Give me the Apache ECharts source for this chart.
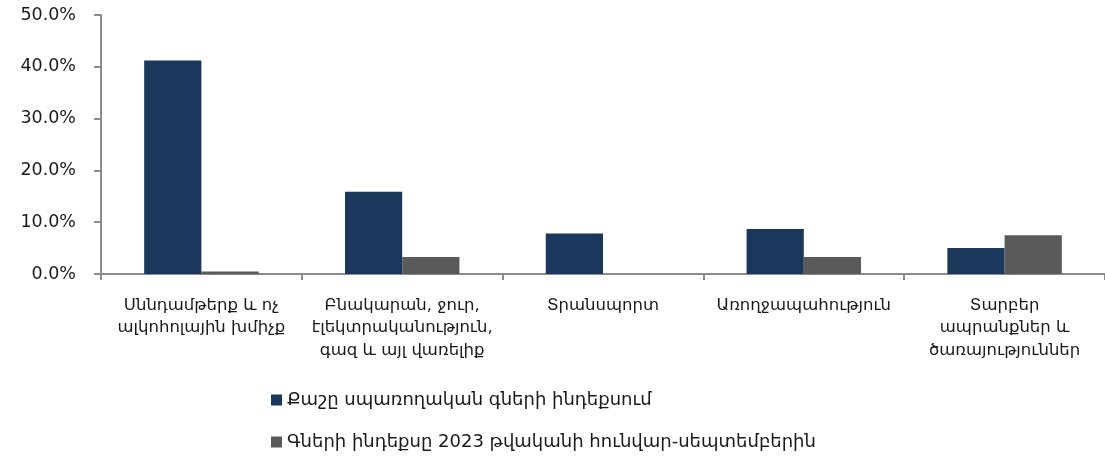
<!DOCTYPE html>
<html>
<head>
<meta charset="UTF-8">
<title></title>
<style>
  html, body { margin: 0; padding: 0; background: #fff; }
  #main { width: 1105px; height: 459px; }
</style>
</head>
<body>
<div id="main"></div>
<script src="https://cdn.jsdelivr.net/npm/echarts@6/dist/echarts.min.js"></script>
<script>
var categories = [
  'Սննդամթերք և ոչ\nալկոհոլային խմիչք',
  'Բնակարան, ջուր,\nէլեկտրականություն,\nգազ և այլ վառելիք',
  'Տրանսպորտ',
  'Առողջապահություն',
  'Տարբեր\nապրանքներ և\nծառայություններ'
];
var seriesNames = [
  'Քաշը սպառողական գների ինդեքսում',
  'Գների ինդեքսը 2023 թվականի հունվար-սեպտեմբերին'
];
var weightValues = [41.2, 15.9, 7.8, 8.7, 5.0];
var indexValues = [0.5, 3.3, 0.0, 3.3, 7.5];
var yTicks = [0, 10, 20, 30, 40, 50];

var font = 'DejaVu Sans';
var myChart = echarts.init(document.getElementById('main'));
var option = {
  animation: false,
  textStyle: { fontFamily: font },
  color: ['#1b375c', '#5a5a5a'],
  grid: { left: 101, width: 1010, top: 15, bottom: 185, containLabel: false },
  legend: {
    orient: 'vertical',
    left: 266,
    top: 386,
    icon: 'rect',
    itemWidth: 11,
    itemHeight: 11,
    itemGap: 24,
    textStyle: { fontFamily: font, fontSize: 18, color: '#1a1a1a' },
    data: seriesNames
  },
  xAxis: {
    type: 'category',
    data: categories,
    axisLine: { lineStyle: { color: '#8c8c8c', width: 2 } },
    axisTick: { show: true, length: 6, lineStyle: { color: '#8c8c8c', width: 2 } },
    axisLabel: {
      interval: 0,
      margin: 20,
      fontFamily: font,
      fontSize: 16.5,
      lineHeight: 22.5,
      color: '#1a1a1a',
      align: 'center'
    }
  },
  yAxis: {
    type: 'value',
    min: yTicks[0],
    max: yTicks[yTicks.length - 1],
    interval: 10,
    splitLine: { show: false },
    axisLine: { show: true, lineStyle: { color: '#8c8c8c', width: 2 } },
    axisTick: { show: true, length: 7, lineStyle: { color: '#8c8c8c', width: 2 } },
    axisLabel: {
      margin: 25,
      fontFamily: font,
      fontSize: 17.5,
      color: '#1a1a1a',
      formatter: function (v) { return v.toFixed(1) + '%'; }
    }
  },
  series: [
    {
      name: seriesNames[0],
      type: 'bar',
      barGap: '0%',
      barCategoryGap: '43%',
      data: weightValues
    },
    {
      name: seriesNames[1],
      type: 'bar',
      data: indexValues
    }
  ]
};
myChart.setOption(option);
</script>
</body>
</html>
